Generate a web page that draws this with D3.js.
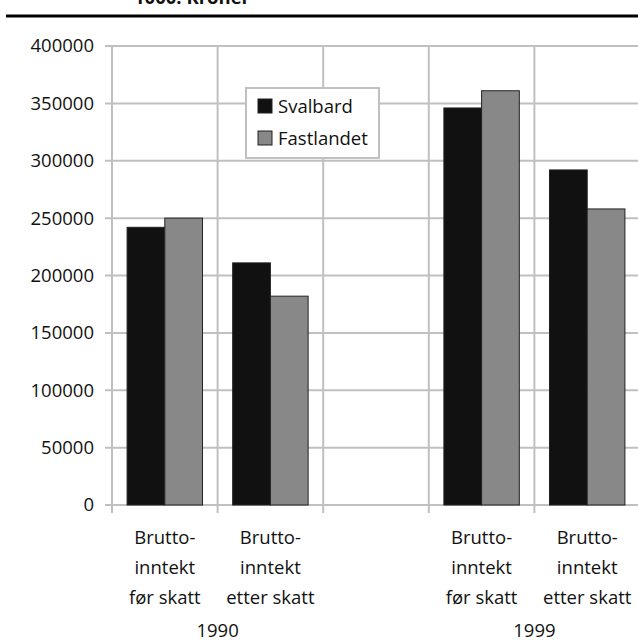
<!DOCTYPE html>
<html><head><meta charset="utf-8">
<script src="https://cdn.jsdelivr.net/npm/d3@7"></script>
<style>
html,body{margin:0;padding:0;background:#fff;overflow:hidden}
text{font-family:"Open Sans",sans-serif;fill:#111}
</style></head>
<body><svg id="c" width="638" height="641"></svg>
<script>
const titleText = "1000. Kroner";
const categoryLines = [
  ["Brutto-", "inntekt", "før skatt"],
  ["Brutto-", "inntekt", "etter skatt"],
  [],
  ["Brutto-", "inntekt", "før skatt"],
  ["Brutto-", "inntekt", "etter skatt"]
];
const years = ["1990", "1999"];
const yearSlots = [[0, 1], [3, 4]];
const seriesNames = ["Svalbard", "Fastlandet"];
const svalbard = [242000, 211000, null, 346000, 292000];
const fastlandet = [250000, 182000, null, 361000, 258000];
const yTicks = [0, 50000, 100000, 150000, 200000, 250000, 300000, 350000, 400000];
const colors = ["#111111", "#888888"];

const svg = d3.select("#c");
const mLeft = 112, mRight = 640, mTop = 46, mBottom = 505;
const fs = 18.5;

const slots = d3.range(categoryLines.length);
const x0 = d3.scaleBand().domain(slots).range([mLeft, mRight]).padding(0);
const x1 = d3.scaleBand().domain(seriesNames).range([0, x0.bandwidth()]).paddingInner(0).paddingOuter(0.4);
const y = d3.scaleLinear().domain([0, 400000]).range([mBottom, mTop]);

// title (cut off at the top edge, as in the source) and rule
svg.append("text").attr("x", 134).attr("y", 3.5).attr("font-weight", "bold")
  .attr("font-size", fs).text(titleText);
svg.append("line").attr("x1", 6).attr("x2", 638).attr("y1", 16).attr("y2", 16)
  .attr("stroke", "#000").attr("stroke-width", 3);

// horizontal grid
const grid = svg.append("g").attr("stroke", "#c0c0c0").attr("stroke-width", 2);
yTicks.forEach(t => {
  grid.append("line").attr("x1", mLeft - 7).attr("x2", mRight).attr("y1", y(t)).attr("y2", y(t));
});
// vertical grid at slot boundaries
slots.forEach(i => {
  const xx = x0(i);
  grid.append("line").attr("x1", xx).attr("x2", xx).attr("y1", mTop).attr("y2", mBottom + 8);
});

// y axis labels
const yAxis = d3.axisLeft(y).tickValues(yTicks).tickSize(0).tickPadding(18).tickFormat(d3.format("d"));
const ga = svg.append("g").attr("transform", `translate(${mLeft},0)`).call(yAxis);
ga.select(".domain").remove();
ga.selectAll("text").attr("font-size", fs).attr("font-family", "'Open Sans',sans-serif").attr("fill", "#111");

// bars
const series = [svalbard, fastlandet];
series.forEach((vals, si) => {
  svg.append("g").selectAll("rect").data(slots.filter(i => vals[i] != null)).join("rect")
    .attr("x", i => x0(i) + x1(seriesNames[si]))
    .attr("y", i => y(vals[i]))
    .attr("width", x1.bandwidth())
    .attr("height", i => mBottom - y(vals[i]))
    .attr("fill", colors[si]).attr("stroke", "#222").attr("stroke-width", 1);
});

// category labels
slots.forEach(i => {
  const cx = x0(i) + x0.bandwidth() / 2;
  categoryLines[i].forEach((ln, k) => {
    svg.append("text").attr("x", cx).attr("y", 544 + k * 30).attr("text-anchor", "middle")
      .attr("font-size", fs).text(ln);
  });
});
// year labels
years.forEach((yr, j) => {
  const s = yearSlots[j];
  const cx = (x0(s[0]) + x0(s[s.length - 1]) + x0.bandwidth()) / 2;
  svg.append("text").attr("x", cx).attr("y", 637).attr("text-anchor", "middle")
    .attr("font-size", fs).text(yr);
});

// legend
const lg = svg.append("g");
lg.append("rect").attr("x", 246).attr("y", 88).attr("width", 133).attr("height", 70)
  .attr("fill", "#fff").attr("stroke", "#c0c0c0").attr("stroke-width", 2);
seriesNames.forEach((n, i) => {
  lg.append("rect").attr("x", 258).attr("y", 99 + i * 32).attr("width", 14).attr("height", 14)
    .attr("fill", colors[i]).attr("stroke", "#222").attr("stroke-width", 1);
  lg.append("text").attr("x", 278).attr("y", 113 + i * 32).attr("font-size", fs).text(n);
});
</script></body></html>
